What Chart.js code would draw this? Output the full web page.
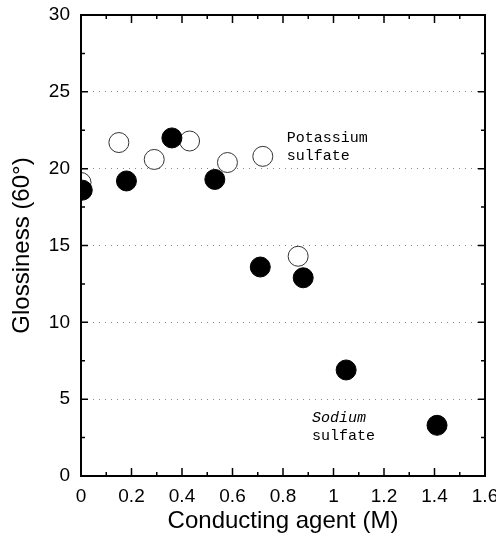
<!DOCTYPE html>
<html>
<head>
<meta charset="utf-8">
<script src="https://cdn.jsdelivr.net/npm/chart.js@4.4.1/dist/chart.umd.min.js"></script>
<style>
  html, body { margin: 0; padding: 0; background: #fff; }
  #wrap { width: 496px; height: 540px; }
</style>
</head>
<body>
<div id="wrap"><canvas id="chart" width="496" height="540"></canvas></div>
<script>
// Potassium sulfate (open circles)
const potassiumX = [0.0, 0.15, 0.29, 0.43, 0.58, 0.72, 0.86];
const potassiumY = [19.1, 21.7, 20.6, 21.8, 20.4, 20.8, 14.3];

// Sodium sulfate (filled circles)
const sodiumX = [0.005, 0.18, 0.36, 0.53, 0.71, 0.88, 1.05, 1.41];
const sodiumY = [18.6, 19.2, 22.0, 19.3, 13.6, 12.9, 6.9, 3.3];

const xTicks = [0, 0.2, 0.4, 0.6, 0.8, 1, 1.2, 1.4, 1.6];
const yTicks = [0, 5, 10, 15, 20, 25, 30];

// text labels next to the series (data coordinates)
const labels = [
  { lines: ['Potassium', 'sulfate'], x: 0.815, y: 21.4, italic: false },
  { lines: ['Sodium', 'sulfate'], x: 0.915, y: 3.2, italic: true }
];

function toPoints(xs, ys) {
  return xs.map((x, i) => ({ x: x, y: ys[i] }));
}

// ticks pointing inward on all four sides + frame
const framePlugin = {
  id: 'frame',
  afterDraw(chart) {
    const ctx = chart.ctx;
    const a = chart.chartArea;
    const xs = chart.scales.x;
    const ys = chart.scales.y;
    ctx.save();
    ctx.strokeStyle = '#000';
    ctx.lineWidth = 1.5;
    for (let v = 0; v <= 16; v++) {
      const px = xs.getPixelForValue(v / 10);
      const len = v % 2 === 0 ? 8 : 4;
      ctx.beginPath();
      ctx.moveTo(px, a.bottom); ctx.lineTo(px, a.bottom - len);
      ctx.moveTo(px, a.top); ctx.lineTo(px, a.top + len);
      ctx.stroke();
    }
    for (let v = 0; v <= 12; v++) {
      const py = ys.getPixelForValue(v * 2.5);
      const len = v % 2 === 0 ? 7 : 4;
      ctx.beginPath();
      ctx.moveTo(a.left, py); ctx.lineTo(a.left + len, py);
      ctx.moveTo(a.right, py); ctx.lineTo(a.right - len, py);
      ctx.stroke();
    }
    ctx.lineWidth = 2;
    ctx.strokeRect(a.left, a.top, a.right - a.left, a.bottom - a.top);

    // series labels
    ctx.fillStyle = '#000';
    ctx.textBaseline = 'middle';
    ctx.textAlign = 'left';
    labels.forEach(l => {
      const px = xs.getPixelForValue(l.x);
      const py = ys.getPixelForValue(l.y);
      l.lines.forEach((t, i) => {
        ctx.font = (l.italic && i === 0 ? 'italic ' : '') + '15px "Liberation Mono", "DejaVu Sans Mono", monospace';
        ctx.fillText(t, px, py + i * 18 - 9);
      });
    });
    ctx.restore();
  }
};

new Chart(document.getElementById('chart'), {
  type: 'scatter',
  data: {
    datasets: [
      {
        label: 'Potassium sulfate',
        data: toPoints(potassiumX, potassiumY),
        pointRadius: 10,
        pointBackgroundColor: '#fff',
        pointBorderColor: '#333',
        pointBorderWidth: 1,
        order: 2
      },
      {
        label: 'Sodium sulfate',
        data: toPoints(sodiumX, sodiumY),
        pointRadius: 10,
        pointBackgroundColor: '#000',
        pointBorderColor: '#000',
        pointBorderWidth: 1,
        order: 1
      }
    ]
  },
  options: {
    responsive: false,
    animation: false,
    clip: 0,
    layout: { padding: { top: 15, right: 9, left: 8, bottom: 0 } },
    plugins: {
      legend: { display: false },
      tooltip: { enabled: false }
    },
    scales: {
      x: {
        type: 'linear',
        min: 0,
        max: 1.6,
        afterBuildTicks: s => { s.ticks = xTicks.map(v => ({ value: v })); },
        afterFit: s => { s.paddingRight = 0; s.paddingLeft = 0; s.height = 64; },
        grid: { display: false, drawTicks: false },
        border: { display: false },
        ticks: {
          color: '#000',
          padding: 9,
          maxRotation: 0,
          font: { family: '"Liberation Sans", Arial', size: 19 },
          callback: v => String(Math.round(v * 10) / 10)
        },
        title: {
          display: true,
          text: 'Conducting agent (M)',
          color: '#000',
          padding: { top: 0, bottom: 4 },
          font: { family: '"Liberation Sans", Arial', size: 24 }
        }
      },
      y: {
        type: 'linear',
        min: 0,
        max: 30,
        afterBuildTicks: s => { s.ticks = yTicks.map(v => ({ value: v })); },
        afterFit: s => { s.paddingTop = 0; s.paddingBottom = 0; s.width = 73; },
        grid: {
          drawTicks: false,
          lineWidth: 1,
          color: c => (c.tick && c.tick.value > 0 && c.tick.value < 30) ? '#888' : 'rgba(0,0,0,0)'
        },
        border: { display: false, dash: [1, 5] },
        ticks: {
          color: '#000',
          padding: 11,
          font: { family: '"Liberation Sans", Arial', size: 19 }
        },
        title: {
          display: true,
          text: 'Glossiness (60°)',
          color: '#000',
          padding: { top: 0, bottom: 4 },
          font: { family: '"Liberation Sans", Arial', size: 24 }
        }
      }
    }
  },
  plugins: [framePlugin]
});
</script>
</body>
</html>
